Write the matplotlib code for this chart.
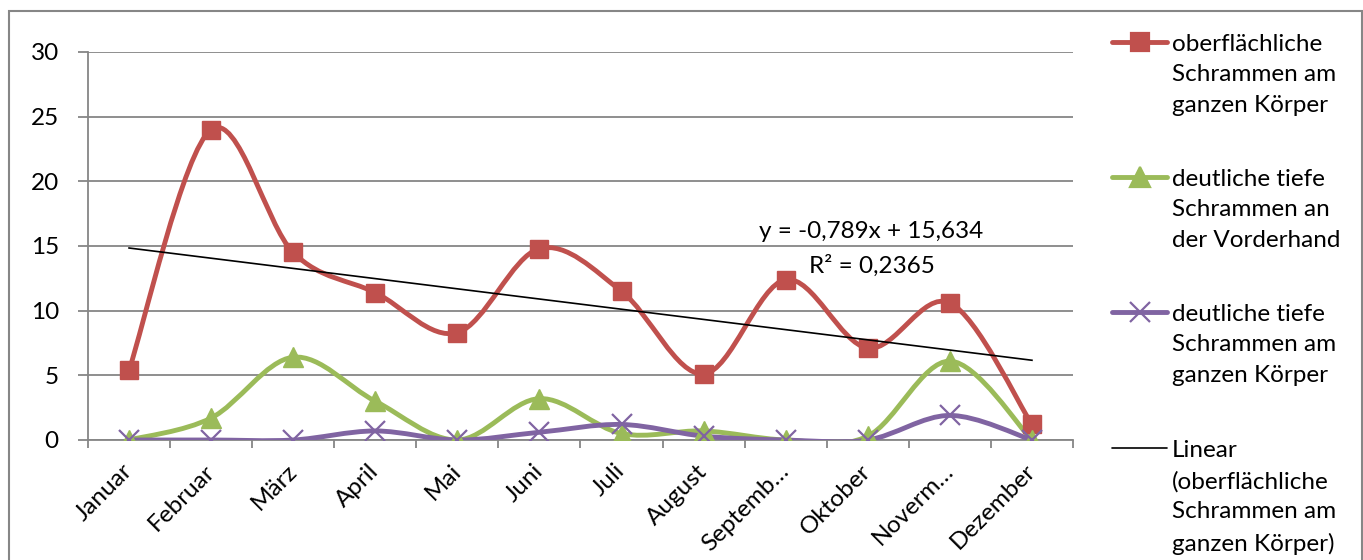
import numpy as np
import matplotlib
matplotlib.use("Agg")
import matplotlib.pyplot as plt
from matplotlib.path import Path
from matplotlib.patches import PathPatch, Rectangle
from matplotlib.lines import Line2D

plt.rcParams['font.family'] = ['Lato', 'DejaVu Sans']

months = ["Januar", "Februar", "März", "April", "Mai", "Juni", "Juli",
          "August", "Septemb…", "Oktober", "Noverm…", "Dezember"]
oberflaechlich = [5.4, 24.0, 14.5, 11.4, 8.3, 14.8, 11.5, 5.1, 12.4, 7.1, 10.6, 1.2]
tief_vorderhand = [0, 1.7, 6.4, 3.0, 0, 3.2, 0.5, 0.7, 0, 0.3, 6.1, 0]
tief_koerper = [0, 0, 0, 0.7, 0, 0.6, 1.2, 0.3, 0, 0, 1.9, 0]
trend_slope = -0.789
trend_intercept = 15.634

labels = ["oberflächliche\nSchrammen am\nganzen Körper",
          "deutliche tiefe\nSchrammen an\nder Vorderhand",
          "deutliche tiefe\nSchrammen am\nganzen Körper",
          "Linear\n(oberflächliche\nSchrammen am\nganzen Körper)"]

RED, GREEN, PURPLE = "#C0504D", "#9BBB59", "#8064A2"
GRID = "#868686"
W, H = 1363, 560
FS = 17.5


def px(x, y):
    return x / W, 1 - y / H


def smooth_path(x, y):
    # Excel-like smoothed line (Catmull-Rom as cubic Bezier)
    pts = np.column_stack([x, y]).astype(float)
    n = len(pts)
    verts, codes = [pts[0]], [Path.MOVETO]
    for i in range(n - 1):
        p0 = pts[i - 1] if i > 0 else pts[i]
        p1, p2 = pts[i], pts[i + 1]
        p3 = pts[i + 2] if i + 2 < n else pts[i + 1]
        verts += [p1 + (p2 - p0) / 6, p2 - (p3 - p1) / 6, p2]
        codes += [Path.CURVE4] * 3
    return Path(verts, codes)


fig = plt.figure(figsize=(W / 100, H / 100), dpi=100)
ax = fig.add_axes([88 / W, 120 / H, 985 / W, 388 / H])

x = np.arange(1, 13)
series = [(oberflaechlich, RED, 's', 13.5, 1.0),
          (tief_vorderhand, GREEN, '^', 14, 1.0),
          (tief_koerper, PURPLE, 'x', 14, 1.6)]
for vals, col, mk, ms, mew in series:
    ax.add_patch(PathPatch(smooth_path(x, vals), fill=False, edgecolor=col,
                           lw=3.5, capstyle='round', joinstyle='round', zorder=3))
    ax.plot(x, vals, ls='none', marker=mk, ms=ms, color=col, mec=col, mew=mew, zorder=4)

tx = np.array([1, 12])
ax.plot(tx, trend_slope * tx + trend_intercept, color='black', lw=1.2, zorder=5)
ax.text(10.04, 16.1, "y = -0,789x + 15,634", ha='center', va='center', fontsize=FS)
ax.text(10.05, 13.5, "R² = 0,2365", ha='center', va='center', fontsize=FS)

ax.set_xlim(0.5, 12.5)
ax.set_ylim(0, 30)
ax.set_yticks(range(0, 31, 5))
ax.yaxis.grid(True, color=GRID, lw=1.3)
ax.set_axisbelow(True)
for s in ['top', 'right']:
    ax.spines[s].set_visible(False)
for s in ['left', 'bottom']:
    ax.spines[s].set_color(GRID)
    ax.spines[s].set_linewidth(1.3)
ax.tick_params(axis='y', length=7, width=1.3, color=GRID, pad=14, labelsize=FS)
ax.set_xticks(x)
ax.set_xticklabels(months, rotation=45, ha='right', va='center',
                   rotation_mode='anchor', fontsize=FS)
ax.tick_params(axis='x', which='major', length=0, pad=20)
ax.set_xticks(np.arange(0.5, 13, 1), minor=True)
ax.tick_params(axis='x', which='minor', length=6, width=1.3, color=GRID)

# legend drawn by hand, handle aligned with first text line
entry_y = [42, 177, 312, 448]
handles = [(RED, 's', 13.5, 3.5), (GREEN, '^', 14, 3.5), (PURPLE, 'x', 14, 3.5), ('black', None, 0, 1.2)]
for yy, lab, (col, mk, ms, lw) in zip(entry_y, labels, handles):
    x0, y0 = px(1112, yy)
    x1, _ = px(1167, yy)
    fig.add_artist(Line2D([x0, x1], [y0, y0], color=col, lw=lw, solid_capstyle='round'))
    if mk:
        xm, _ = px(1140, yy)
        fig.add_artist(Line2D([xm], [y0], color=col, marker=mk, ms=ms, mew=1.6))
    tx0, ty0 = px(1172, yy - 8)
    fig.text(tx0, ty0, lab, ha='left', va='top', fontsize=FS, linespacing=1.55)

bx, by = px(9, 11)
fig.add_artist(Rectangle((bx, -0.1), (1361.5 - 9) / W, by + 0.1, fill=False,
                         edgecolor=GRID, lw=1.5, transform=fig.transFigure))

fig.savefig("out.png", dpi=100)
